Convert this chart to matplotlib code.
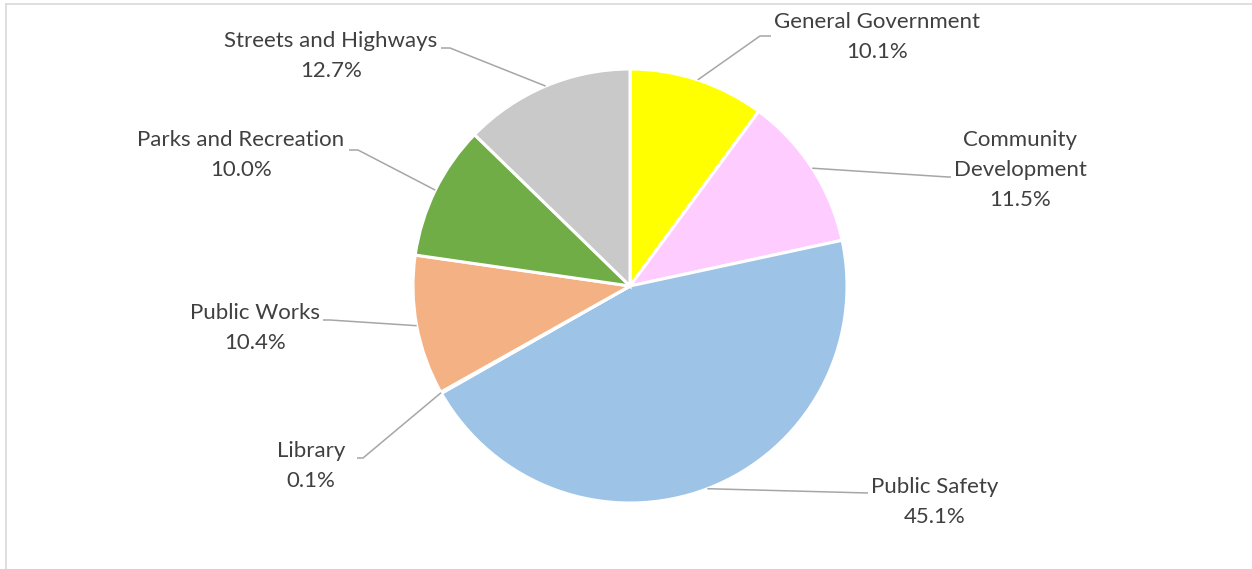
import numpy as np
import matplotlib.pyplot as plt
from matplotlib.lines import Line2D

# ── budget shares by department ──────────────────────────────────────────────
departments = ['General Government', 'Community\nDevelopment', 'Public Safety',
               'Library', 'Public Works', 'Parks and Recreation',
               'Streets and Highways']
shares      = [10.1, 11.5, 45.1, 0.1, 10.4, 10.0, 12.7]
colors      = ['#FFFF00', '#FFCCFF', '#9DC3E6', '#9DC3E6', '#F4B183',
               '#70AD47', '#C9C9C9']

# label placement in pixel space: (text centre x, text centre y, elbow x, elbow y, end x)
label_pos = [
    (877,  37, 760,  36, 771),
    (1020, 170, 948, 177, 951),
    (935, 502, 868, 493, 868),
    (311, 466, 363, 458, 357),
    (255, 328, 330, 320, 323),
    (241, 155, 358, 150, 349),
    (331,  56, 450,  48, 441),
]

W, H = 1252, 569
fig = plt.figure(figsize=(W / 100, H / 100), dpi=100)
ax = fig.add_axes([0, 0, 1, 1])

def py(y):
    return H - y

cx, cy, r = 630, py(286), 217
wedges, _ = ax.pie(shares, colors=colors, startangle=90, counterclock=False,
                   center=(cx, cy), radius=r,
                   wedgeprops=dict(edgecolor='white', linewidth=2.2))

ax.set_xlim(0, W)
ax.set_ylim(0, H)
ax.set_aspect('equal')
ax.axis('off')

for w, name, val, (tx, ty, ex, ey, endx) in zip(wedges, departments, shares, label_pos):
    mid = np.deg2rad((w.theta1 + w.theta2) / 2)
    sx, sy = cx + r * np.cos(mid), cy + r * np.sin(mid)
    ax.plot([sx, ex, endx], [sy, py(ey), py(ey)], color='#A6A6A6', lw=1.1,
            solid_capstyle='butt', zorder=1)
    ax.text(tx, py(ty), f'{name}\n{val:.1f}%', ha='center', va='center',
            fontsize=16, family='Lato', color='#404040', linespacing=1.62)

# chart area border
fig.add_artist(Line2D([5.5 / W, 5.5 / W], [0, 1 - 3.5 / H], color='#D9D9D9', lw=1.2))
fig.add_artist(Line2D([5.5 / W, 1], [1 - 3.5 / H, 1 - 3.5 / H], color='#D9D9D9', lw=1.2))

fig.savefig('out.png', dpi=100, facecolor='white')
